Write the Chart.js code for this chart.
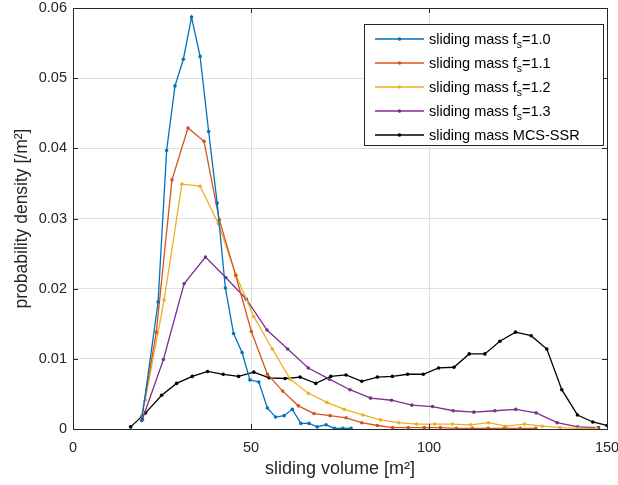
<!DOCTYPE html>
<html>
<head>
<meta charset="utf-8">
<script src="https://cdn.jsdelivr.net/npm/chart.js@4/dist/chart.umd.min.js"></script>
<style>
  html, body { margin: 0; padding: 0; background: #fff; }
  #wrap { width: 618px; height: 485px; }
</style>
</head>
<body>
<div id="wrap"><canvas id="pdf-chart" width="618" height="485"></canvas></div>
<script>
// Tick values
const xTicks = [0, 50, 100, 150];
const yTicks = [0, 0.01, 0.02, 0.03, 0.04, 0.05, 0.06];

// Series names (the "_s" part is drawn as a subscript)
const seriesNames = [
  'sliding mass f_s=1.0',
  'sliding mass f_s=1.1',
  'sliding mass f_s=1.2',
  'sliding mass f_s=1.3',
  'sliding mass MCS-SSR'
];
const seriesColors = ['#0072BD', '#D95319', '#EDB120', '#7E2F8E', '#000000'];

// fs = 1.0
const fs10X = [19.3, 23.9, 26.3, 28.65, 31.0, 33.3, 35.7, 38.1, 40.5, 42.8, 45.1, 47.5, 49.7, 52.2, 54.6, 56.9, 59.3, 61.6, 64.0, 66.3, 68.6, 71.1, 73.4, 75.8, 78.1];
const fs10Y = [0.0012, 0.0181, 0.0397, 0.0489, 0.0527, 0.0587, 0.0531, 0.0424, 0.0322, 0.0201, 0.0136, 0.0109, 0.0070, 0.0067, 0.0030, 0.0017, 0.0019, 0.0028, 0.0008, 0.0008, 0.0003, 0.0006, 0.0001, 0.0001, 0.0001];

// fs = 1.1
const fs11X = [19.3, 23.4, 27.8, 32.3, 36.8, 41.1, 45.7, 50.1, 54.6, 58.9, 63.3, 67.7, 72.2, 76.7, 81.1, 85.5, 89.8, 94.2, 98.7, 103.2, 107.7, 112.2, 116.6, 121.1, 125.6, 130.0];
const fs11Y = [0.0018, 0.0138, 0.0355, 0.0429, 0.0410, 0.0298, 0.0219, 0.0139, 0.0078, 0.0054, 0.0033, 0.0022, 0.0019, 0.0016, 0.0009, 0.0005, 0.0002, 0.0002, 0.0002, 0.0002, 0.0001, 0.0001, 0.0001, 0.0001, 0.0001, 0.0001];

// fs = 1.2
const fs12X = [20.3, 25.6, 30.6, 35.7, 40.8, 45.8, 50.8, 56.0, 61.0, 66.1, 71.3, 76.2, 81.4, 86.4, 91.5, 96.5, 101.6, 106.6, 111.7, 116.7, 121.6, 126.8, 131.8, 136.8, 141.9, 147.0];
const fs12Y = [0.0041, 0.0184, 0.0349, 0.0346, 0.0293, 0.0219, 0.0160, 0.0114, 0.0071, 0.0051, 0.0038, 0.0028, 0.0020, 0.0013, 0.0009, 0.0007, 0.0007, 0.0007, 0.0006, 0.0009, 0.0004, 0.0007, 0.0004, 0.0002, 0.0001, 0.0001];

// fs = 1.3
const fs13X = [19.5, 25.4, 31.2, 37.2, 42.9, 48.7, 54.5, 60.3, 66.1, 72.0, 77.8, 83.6, 89.5, 95.2, 101.0, 106.8, 112.6, 118.5, 124.4, 130.1, 136.0, 141.8, 147.6];
const fs13Y = [0.0014, 0.0099, 0.0207, 0.0245, 0.0216, 0.0185, 0.0141, 0.0114, 0.0087, 0.0071, 0.0056, 0.0044, 0.0041, 0.0034, 0.0032, 0.0026, 0.0024, 0.0026, 0.0028, 0.0023, 0.0009, 0.0003, 0.0002];

// MCS-SSR
const mcsX = [16.2, 20.4, 24.9, 29.1, 33.5, 37.8, 42.2, 46.5, 50.8, 55.1, 59.6, 63.8, 68.2, 72.4, 76.7, 81.1, 85.5, 89.7, 94.0, 98.4, 102.7, 107.0, 111.3, 115.7, 119.9, 124.3, 128.7, 133.1, 137.3, 141.7, 146.0, 150.0];
const mcsY = [0.0003, 0.0023, 0.0048, 0.0065, 0.0075, 0.0082, 0.0078, 0.0075, 0.0081, 0.0073, 0.0072, 0.0074, 0.0065, 0.0075, 0.0077, 0.0068, 0.0074, 0.0075, 0.0078, 0.0078, 0.0087, 0.0088, 0.0107, 0.0107, 0.0125, 0.0138, 0.0133, 0.0114, 0.0056, 0.0020, 0.0010, 0.0005];

const FONT = '"Liberation Sans", Arial, Helvetica, sans-serif';
const AXIS_COLOR = '#262626';

function toPoints(xs, ys) {
  return xs.map(function(x, i) { return { x: x, y: ys[i] }; });
}

function makeDataset(idx, xs, ys) {
  return {
    label: seriesNames[idx],
    data: toPoints(xs, ys),
    borderColor: seriesColors[idx],
    backgroundColor: seriesColors[idx],
    borderWidth: 1.3,
    pointRadius: 1.8,
    pointHoverRadius: 1.8,
    pointBorderWidth: 0,
    showLine: true,
    tension: 0
  };
}

// Draw "f_s" style text with a subscript
function drawSubText(ctx, text, x, y, size) {
  const parts = text.split('_');
  ctx.font = size + 'px ' + FONT;
  ctx.fillText(parts[0], x, y);
  if (parts.length < 2) return;
  x += ctx.measureText(parts[0]).width;
  const sub = parts[1].charAt(0);
  const rest = parts[1].slice(1);
  ctx.font = (size * 0.72) + 'px ' + FONT;
  ctx.fillText(sub, x, y + size * 0.42);
  x += ctx.measureText(sub).width;
  ctx.font = size + 'px ' + FONT;
  ctx.fillText(rest, x, y);
}

// Box, inward ticks and legend, drawn on top of the lines like MATLAB does
const matlabAxes = {
  id: 'matlabAxes',
  afterDatasetsDraw: function(chart) {
    const ctx = chart.ctx;
    const a = chart.chartArea;
    const xs = chart.scales.x;
    const ys = chart.scales.y;
    const tick = 5;
    ctx.save();
    ctx.strokeStyle = AXIS_COLOR;
    ctx.lineWidth = 1;
    ctx.beginPath();
    xTicks.forEach(function(v) {
      const px = Math.round(xs.getPixelForValue(v)) + 0.5;
      ctx.moveTo(px, a.bottom); ctx.lineTo(px, a.bottom - tick);
      ctx.moveTo(px, a.top); ctx.lineTo(px, a.top + tick);
    });
    yTicks.forEach(function(v) {
      const py = Math.round(ys.getPixelForValue(v)) + 0.5;
      ctx.moveTo(a.left, py); ctx.lineTo(a.left + tick, py);
      ctx.moveTo(a.right, py); ctx.lineTo(a.right - tick, py);
    });
    ctx.stroke();
    ctx.strokeRect(Math.round(a.left) + 0.5, Math.round(a.top) + 0.5,
      Math.round(a.right - a.left), Math.round(a.bottom - a.top));

    // legend
    const lx = 364.5, ly = 24.5, lw = 239, lh = 121;
    ctx.fillStyle = '#ffffff';
    ctx.fillRect(lx, ly, lw, lh);
    ctx.strokeStyle = AXIS_COLOR;
    ctx.strokeRect(lx, ly, lw, lh);
    chart.data.datasets.forEach(function(ds, i) {
      const rowY = 39 + i * 24;
      ctx.strokeStyle = ds.borderColor;
      ctx.lineWidth = 1.3;
      ctx.beginPath();
      ctx.moveTo(375, rowY); ctx.lineTo(424, rowY);
      ctx.stroke();
      ctx.fillStyle = ds.borderColor;
      ctx.beginPath();
      ctx.arc(399.5, rowY, 1.8, 0, Math.PI * 2);
      ctx.fill();
      ctx.fillStyle = '#000000';
      ctx.textBaseline = 'middle';
      ctx.textAlign = 'left';
      drawSubText(ctx, ds.label, 429, rowY + 0.5, 14.5);
    });
    ctx.restore();
  }
};

// Keep the plot box where the reference has it (ignore tick-label overhang)
function noOverhang(scale) {
  scale.paddingLeft = 0;
  scale.paddingRight = 0;
  scale.paddingTop = 0;
  scale.paddingBottom = 0;
}

const ctx = document.getElementById('pdf-chart').getContext('2d');
const pdfChart = new Chart(ctx, {
  type: 'scatter',
  data: {
    datasets: [
      makeDataset(0, fs10X, fs10Y),
      makeDataset(1, fs11X, fs11Y),
      makeDataset(2, fs12X, fs12Y),
      makeDataset(3, fs13X, fs13Y),
      makeDataset(4, mcsX, mcsY)
    ]
  },
  options: {
    responsive: false,
    animation: false,
    layout: { padding: { top: 8, right: 11, left: 0, bottom: 0 } },
    plugins: {
      legend: { display: false },
      tooltip: { enabled: false }
    },
    scales: {
      x: {
        type: 'linear',
        min: 0,
        max: 150,
        afterBuildTicks: function(scale) {
          scale.ticks = xTicks.map(function(v) { return { value: v }; });
        },
        afterFit: function(scale) { scale.height = 56; noOverhang(scale); },
        grid: { color: '#dfdfdf', drawTicks: false },
        border: { display: false },
        ticks: {
          color: AXIS_COLOR,
          padding: 10,
          maxRotation: 0,
          font: { family: FONT, size: 14.5 }
        },
        title: {
          display: true,
          text: 'sliding volume [m²]',
          color: AXIS_COLOR,
          padding: { top: 0, bottom: 5 },
          font: { family: FONT, size: 18 }
        }
      },
      y: {
        type: 'linear',
        min: 0,
        max: 0.06,
        afterBuildTicks: function(scale) {
          scale.ticks = yTicks.map(function(v) { return { value: v }; });
        },
        afterFit: function(scale) { scale.width = 73; noOverhang(scale); },
        grid: { color: '#dfdfdf', drawTicks: false },
        border: { display: false },
        ticks: {
          color: AXIS_COLOR,
          padding: 6,
          font: { family: FONT, size: 14.5 },
          callback: function(v) { return v === 0 ? '0' : v.toFixed(2); }
        },
        title: {
          display: true,
          text: 'probability density [/m²]',
          color: AXIS_COLOR,
          padding: { top: 12, bottom: 0 },
          font: { family: FONT, size: 17.5 }
        }
      }
    }
  },
  plugins: [matlabAxes]
});
</script>
</body>
</html>
